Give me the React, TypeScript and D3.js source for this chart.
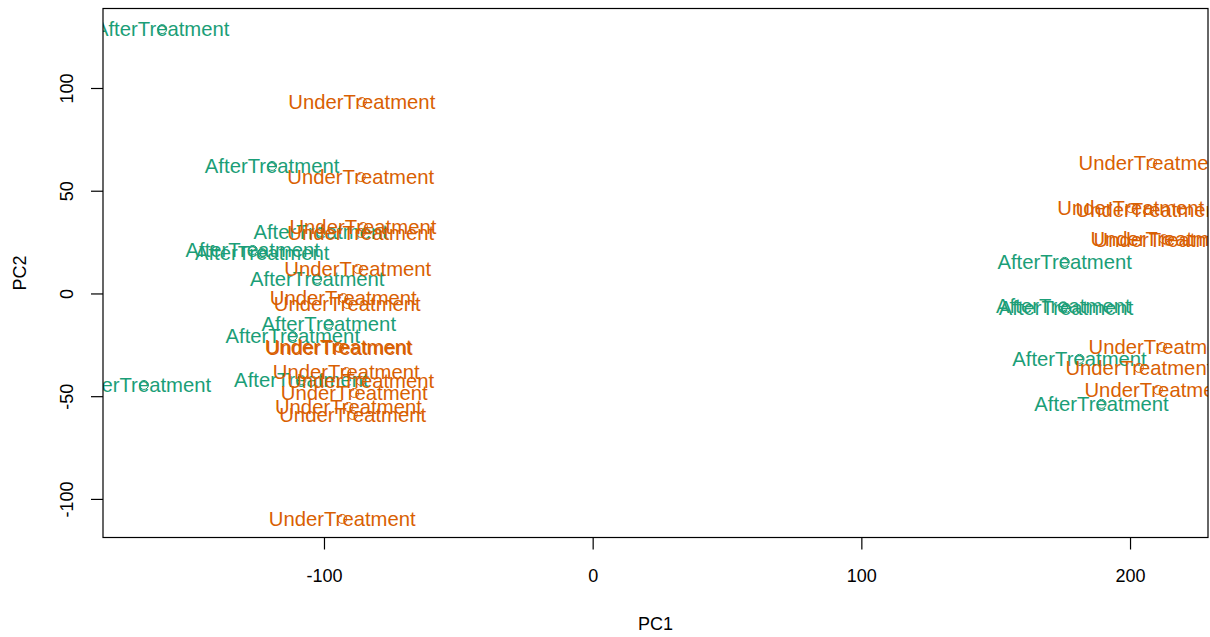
import React from "react";
import * as d3 from "d3";

const afterX = [-160.4, -119.5, -101.4, -126.7, -123.2, -102.7, -98.4, -111.8, -108.6, -167.2, 175.5, 175.0, 176.0, 181.0, 189.2];
const afterY = [129.4, 62.8, 30.7, 21.9, 20.4, 7.8, -14.1, -20.0, -41.4, -43.8, 16.1, -5.5, -6.3, -31.1, -53.0];
const underX = [-86.1, -86.5, -85.7, -86.5, -87.6, -93.0, -91.5, -94.9, -94.5, -91.9, -86.5, -88.9, -91.1, -89.5, -93.4, 208.0, 200.1, 206.9, 212.4, 213.6, 211.7, 203.1, 210.2];
const underY = [93.9, 57.4, 33.1, 30.2, 12.7, -1.5, -4.4, -25.3, -25.8, -37.5, -41.8, -47.7, -54.5, -58.4, -109.0, 64.2, 42.3, 41.4, 27.2, 26.5, -25.3, -35.5, -46.2];
const groups = ["AfterTreatment", "UnderTreatment"];
const groupColors = ["#1B9E77", "#D95F02"];
const xTicks = [-100, 0, 100, 200];
const yTicks = [-100, -50, 0, 50, 100];
const xTitle = "PC1";
const yTitle = "PC2";

const W = 1210, H = 637;
const L = 103, R = 1208, T = 8.5, B = 537.5;
const FONT = "'Liberation Sans', Arial, Helvetica, sans-serif";

function padExtent(vals: number[]): [number, number] {
  const [a, b] = d3.extent(vals) as [number, number];
  const p = (b - a) * 0.04;
  return [a - p, b + p];
}

export default function App() {
  const pts = [
    ...afterX.map((x, i) => ({ x, y: afterY[i], g: 0 })),
    ...underX.map((x, i) => ({ x, y: underY[i], g: 1 })),
  ];
  const xs = d3.scaleLinear().domain(padExtent(pts.map((p) => p.x))).range([L, R]);
  const ys = d3.scaleLinear().domain(padExtent(pts.map((p) => p.y))).range([B, T]);
  const tick = 12;
  return (
    <svg width={W} height={H} style={{ position: "absolute", left: 0, top: 0, background: "#fff" }} fontFamily={FONT}>
      <defs>
        <clipPath id="plotclip">
          <rect x={L} y={T} width={R - L} height={B - T} />
        </clipPath>
      </defs>
      <rect x={0} y={0} width={W} height={H} fill="#fff" />
      <g clipPath="url(#plotclip)">
        {pts.map((p, i) => (
          <g key={i}>
            <circle cx={xs(p.x)} cy={ys(p.y) + 1} r={4.5} fill="none" stroke={groupColors[p.g]} strokeWidth={1} />
            <text x={xs(p.x)} y={ys(p.y) + 7.8} textAnchor="middle" fontSize={20.3} fill={groupColors[p.g]}>
              {groups[p.g]}
            </text>
          </g>
        ))}
      </g>
      <rect x={L} y={T} width={R - L} height={B - T} fill="none" stroke="#000" strokeWidth={1.2} />
      {xTicks.map((t) => (
        <g key={"x" + t}>
          <line x1={xs(t)} x2={xs(t)} y1={B} y2={B + tick} stroke="#000" strokeWidth={1.2} />
          <text x={xs(t)} y={B + 44} textAnchor="middle" fontSize={18} fill="#000">{t}</text>
        </g>
      ))}
      {yTicks.map((t) => (
        <g key={"y" + t}>
          <line x1={L - tick} x2={L} y1={ys(t)} y2={ys(t)} stroke="#000" strokeWidth={1.2} />
          <text transform={`translate(${L - 30},${ys(t)}) rotate(-90)`} textAnchor="middle" fontSize={18} fill="#000">{t}</text>
        </g>
      ))}
      <text x={(L + R) / 2} y={B + 92} textAnchor="middle" fontSize={18} fill="#000">{xTitle}</text>
      <text transform={`translate(${L - 77},${(T + B) / 2}) rotate(-90)`} textAnchor="middle" fontSize={18} fill="#000">{yTitle}</text>
    </svg>
  );
}
